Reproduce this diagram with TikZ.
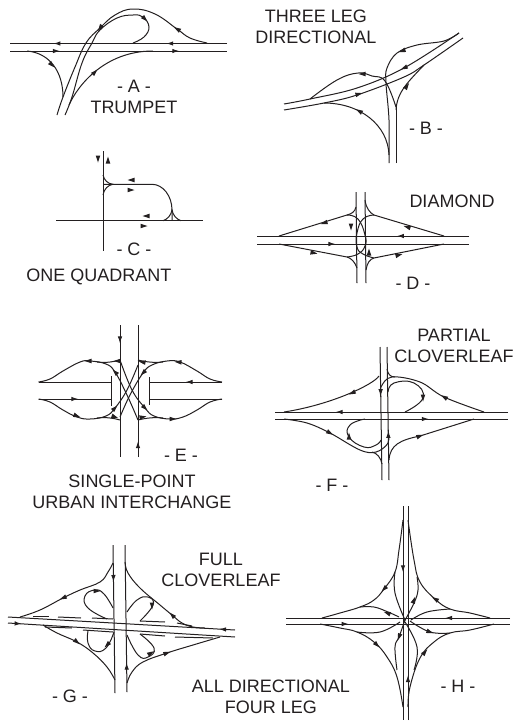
\documentclass[tikz,border=0pt]{standalone}
\usepackage{fontspec}
\setmainfont{Liberation Sans}
\usetikzlibrary{arrows.meta,decorations.markings}
\definecolor{ink}{HTML}{231F20}
\tikzset{
  road/.style={ink, line width=1pt},
  flow/.style={postaction={decorate, decoration={markings, mark=at position #1 with {\arrow{Latex[length=7pt,width=4.5pt]}}}}},
  lbl/.style={ink, font=\fontsize{18}{21}\selectfont, align=center, inner sep=0pt},
}
% free arrow head: x, y, angle
\newcommand{\tipmark}[3]{\fill[ink, shift={(#1,#2)}, rotate=#3] (3.5,0) -- (-3.5,2.3) -- (-3.5,-2.3) -- cycle;}
\begin{document}
\begin{tikzpicture}[x=1pt, y=-1pt]
    \useasboundingbox (0,0) rectangle (514,721);

    % --- A: trumpet ---
    \draw[road, flow=0.28, flow=0.8] (227,43.5) -- (10,43.5);
    \draw[road, flow=0.23, flow=0.78] (10,51) -- (227,51);
    \draw[road] plot[smooth, tension=0.7] coordinates {(207,43) (190,38) (177,29) (155,14) (133,9) (115,15) (100,28) (86,43) (75,67) (63,97) (57,115)};
    \draw[road] plot[smooth, tension=0.7] coordinates {(133,43) (144,37) (149,27) (143,17) (133,15) (117,18) (100,30) (92,43) (82,63) (72,97) (65,115)};
    \draw[road] (69,105) .. controls (78,85) and (105,51) .. (153,51);
    \draw[road] (27,51) .. controls (50,53) and (63,72) .. (63,97);
    \tipmark{177}{29}{150}
    \tipmark{100}{28}{235}
    \tipmark{95}{72}{45}
    \tipmark{52}{65}{315}
    \tipmark{145}{19}{315}

    % --- B: three leg directional ---
    \draw[road] plot[smooth, tension=0.6] coordinates {(459,33) (404,68) (357,88) (310,99) (284,104)};
    \draw[road] plot[smooth, tension=0.6] coordinates {(284,110) (324,103) (357,95) (404,77) (424,65) (463,38)};
    \draw[road] plot[smooth, tension=0.6] coordinates {(459,33) (444,41) (417,45) (397,53) (387,68) (386,83) (389,120) (389,163)};
    \draw[road] (396,163) -- (396,107);
    \draw[road] (396,110) .. controls (397,92) and (408,82) .. (424,65);
    \draw[road] plot[smooth, tension=0.7] coordinates {(396,107) (385,81) (372,76) (358,73) (337,80) (310,99)};
    \draw[road] (389,155) .. controls (388,125) and (360,103) .. (324,103);
    \tipmark{404}{68}{205}
    \tipmark{359}{94}{15}
    \tipmark{402}{51}{200}
    \tipmark{407}{86}{55}
    \tipmark{362}{74}{180}
    \tipmark{359}{111}{150}

    % --- C: one quadrant ---
    \draw[road] (103,151) -- (103,251);
    \draw[road] (56,220.7) -- (203,220.7);
    \draw[road] (103,184.3) -- (152,184.3) .. controls (163,184.3) and (172,196) .. (172,210) -- (172,220.7);
    \draw[road] (103,175) .. controls (104,180) and (108,184) .. (113,184.3) .. controls (108,185) and (104,189) .. (103,195);
    \draw[road] (163,220.7) .. controls (168,219) and (171,215) .. (172,210) .. controls (173,215) and (176,219) .. (181,220.7);
    \tipmark{98}{159}{270}
    \tipmark{108}{160}{90}
    \tipmark{131}{180}{180}
    \tipmark{131}{190}{0}
    \tipmark{146}{216}{180}
    \tipmark{144}{226}{0}

    % --- D: diamond ---
    \draw[road, flow=0.34] (469,236) -- (257,236);
    \draw[road, flow=0.37] (257,244) -- (469,244);
    \draw[road] (356,192) -- (357,283);
    \draw[road] (365,192) -- (366,283);
    \draw[road] (356,207) .. controls (355,212) and (351,214) .. (347,215) -- (279,236);
    \draw[road] (444,236) -- (374,215) .. controls (370,213) and (366,208) .. (365,200);
    \draw[road] (279,244) -- (347,257) .. controls (351,258) and (355,262) .. (357,268);
    \draw[road] (366,270) .. controls (367,263) and (370,259) .. (374,258) -- (444,244);
    \draw[road] plot[smooth, tension=0.8] coordinates {(347,215) (358,219) (365,235) (365,246) (358,254) (347,257)};
    \draw[road] plot[smooth, tension=0.8] coordinates {(374,215) (363,219) (357,233) (357,247) (363,254) (374,258)};
    \tipmark{324}{223}{197}
    \tipmark{407}{227}{163}
    \tipmark{314}{253}{349}
    \tipmark{399}{255}{15}
    \tipmark{351}{227}{270}
    \tipmark{369}{252}{90}

    % --- E: single-point urban interchange ---
    \draw[road, flow=0.14] (120,325) -- (120,457);
    \draw[road, flow=0.12] (138,457) -- (138,325);
    \draw[road] (38.5,382) -- (111,382);
    \draw[road, flow=0.55] (38.5,399) -- (111,399);
    \draw[road, flow=0.5] (222,382) -- (149,382);
    \draw[road] (149,399) -- (222,399);
    \draw[road] (111,376) -- (111,406);
    \draw[road] (149,377) -- (149,405);
    \draw[road] plot[smooth, tension=0.7] coordinates {(138,420) (127,395) (115,372) (106,364) (90,361) (80,362) (63,371) (50,379) (38.5,382)};
    \draw[road] plot[smooth, tension=0.7] coordinates {(222,382) (210,379) (197,371) (180,362) (167,361) (152,365) (143,373) (130,395) (120,417)};
    \draw[road] plot[smooth, tension=0.7] coordinates {(38.5,399) (50,402) (63,410) (77,417) (90,419) (106,416) (115,408) (127,390) (138,365)};
    \draw[road] plot[smooth, tension=0.7] coordinates {(120,360) (132,390) (145,408) (154,416) (170,419) (183,417) (197,410) (210,402) (222,399)};
    \draw[road] (97,362) .. controls (106,363) and (113,362) .. (120,360);
    \draw[road] (163,362) .. controls (155,363) and (146,362) .. (138,360);
    \draw[road] (97,418) .. controls (106,417) and (113,418) .. (120,420);
    \draw[road] (138,420) .. controls (146,418) and (155,417) .. (163,418);
    \tipmark{88}{361}{180}
    \tipmark{115}{372}{135}
    \tipmark{178}{362}{175}
    \tipmark{143}{373}{225}
    \tipmark{77}{416}{340}
    \tipmark{115}{408}{45}
    \tipmark{173}{419}{0}
    \tipmark{145}{408}{315}
    \tipmark{117}{361}{180}
    \tipmark{142}{362}{170}
    \tipmark{115}{417}{340}
    \tipmark{143}{417}{10}

    % --- F: partial cloverleaf ---
    \draw[road, flow=0.74] (508,412) -- (275,412);
    \draw[road, flow=0.66] (275,419) -- (508,419);
    \draw[road, flow=0.37] (380,347) -- (382,480);
    \draw[road, flow=0.37] (389,480) -- (387,347);
    \draw[road] (379,376) .. controls (373,385) and (330,405) .. (284,412);
    \draw[road] plot[smooth, tension=0.6] coordinates {(484,412) (444,397) (420,382) (392,377) (381,387) (381,397)};
    \draw[road] (387,369) .. controls (388,374) and (390,377) .. (395,377);
    \draw[road] plot[smooth, tension=0.8] coordinates {(388,392) (394,383) (414,383) (423,398) (405,412)};
    \draw[road] plot[smooth, tension=0.6] coordinates {(284,419) (307,423) (330,433) (360,450) (376,452) (388,443) (388,430)};
    \draw[road] (382,464) .. controls (381,458) and (377,453) .. (372,452);
    \draw[road] plot[smooth, tension=0.8] coordinates {(381,440) (376,445) (364,447) (349,437) (350,425) (365,419)};
    \draw[road] (389,460) .. controls (390,445) and (400,440) .. (420,436) -- (474,419);
    \tipmark{352}{393}{205}
    \tipmark{444}{397}{150}
    \tipmark{423}{398}{270}
    \tipmark{330}{433}{330}
    \tipmark{349}{436}{90}
    \tipmark{420}{436}{20}

    % --- G: full cloverleaf ---
    \draw[road, flow=0.07] (235,630) -- (8,617);
    \draw[road, flow=0.06] (8,623) -- (235,637);
    \draw[road, flow=0.25] (113,545) -- (115,693);
    \draw[road, flow=0.2] (127,692) -- (125,545);
    \foreach \xa/\ya/\xb/\yb in {33/616/49/616, 58/617/81/618, 92/618/113/619, 140/621/165/622, 177/623/192/626,
        45/627/72/628, 83/630/113/632, 140/634/165/636, 175/637/213/638}
        \draw[road] (\xa,\ya) -- (\xb,\yb);
    \draw[road] plot[smooth, tension=0.7] coordinates {(113,563) (108,572) (100,582) (80,590) (63,598) (40,610) (20,617)};
    \draw[road] plot[smooth, tension=0.7] coordinates {(205,628) (193,627) (182,623) (172,615) (160,605) (140,588) (128,573) (125,562)};
    \draw[road] plot[smooth, tension=0.7] coordinates {(43,625) (57,633) (77,642) (93,653) (107,667) (115,680)};
    \draw[road] plot[smooth, tension=0.7] coordinates {(127,683) (132,672) (143,662) (167,653) (193,645) (220,637)};
    \draw[road] plot[smooth, tension=0.8] coordinates {(107,619) (88,608) (85,596) (95,590) (104,594) (113,608)};
    \draw[road] plot[smooth, tension=0.8] coordinates {(127,612) (137,600) (148,597) (153,605) (140,621)};
    \draw[road] plot[smooth, tension=0.8] coordinates {(114,632) (106,648) (95,651) (88,643) (88,631)};
    \draw[road] plot[smooth, tension=0.8] coordinates {(127,635) (138,655) (148,657) (154,648) (140,634)};
    \tipmark{63}{598}{205}
    \tipmark{172}{615}{135}
    \tipmark{77}{642}{320}
    \tipmark{167}{653}{20}
    \tipmark{97}{591}{0}
    \tipmark{152}{606}{270}
    \tipmark{107}{645}{225}
    \tipmark{151}{653}{30}

    % --- H: all directional four leg ---
    \draw[road, flow=0.29] (510,618) -- (286,618);
    \draw[road, flow=0.28] (286,624) -- (510,624);
    \draw[road, flow=0.31] (403,506) -- (403,720);
    \draw[road, flow=0.21] (408,720) -- (408,506);
    \draw[road] plot[smooth, tension=0.7] coordinates {(403,520) (399,550) (395,572) (384,589) (374,600) (360,607) (340,613) (322,618)};
    \draw[road] plot[smooth, tension=0.7] coordinates {(490,618) (470,613) (450,609) (435,599) (420,582) (414,560) (408,520)};
    \draw[road] plot[smooth, tension=0.7] coordinates {(320,624) (340,628) (357,632) (374,642) (387,657) (397,677) (403,707)};
    \draw[road] plot[smooth, tension=0.7] coordinates {(408,707) (410,687) (420,658) (434,642) (450,633) (470,630) (494,624)};
    \draw[road] plot[smooth, tension=0.7] coordinates {(399,617) (388,612) (374,607) (360,607)};
    \draw[road] plot[smooth, tension=0.7] coordinates {(395,572) (395,593) (405,620)};
    \draw[road] plot[smooth, tension=0.7] coordinates {(404,622) (414,603) (418,590) (417,577)};
    \draw[road] plot[smooth, tension=0.7] coordinates {(450,609) (427,612) (411,620)};
    \draw[road] plot[smooth, tension=0.7] coordinates {(357,632) (380,632) (400,622)};
    \draw[road] plot[smooth, tension=0.7] coordinates {(405,620) (399,637) (395,647) (397,670)};
    \draw[road] plot[smooth, tension=0.7] coordinates {(405,622) (417,647) (414,670)};
    \draw[road] plot[smooth, tension=0.7] coordinates {(410,621) (430,632) (450,633)};
    \tipmark{384}{589}{225}
    \tipmark{435}{599}{150}
    \tipmark{377}{645}{315}
    \tipmark{425}{652}{50}
    \tipmark{387}{613}{160}
    \tipmark{414}{600}{70}
    \tipmark{399}{637}{250}
    \tipmark{430}{632}{340}

    % --- labels ---
    \node[lbl] (labelA) at (134,97) {- A -\\TRUMPET};
    \node[lbl] (labelB) at (316,27) {THREE LEG\\DIRECTIONAL};
    \node[lbl] (tagB) at (426,128) {- B -};
    \node[lbl] (tagC) at (134,249) {- C -};
    \node[lbl] (labelC) at (99,277) {ONE QUADRANT};
    \node[lbl] (labelD) at (452,201) {DIAMOND};
    \node[lbl] (tagD) at (413,283) {- D -};
    \node[lbl] (tagE) at (181,455) {- E -};
    \node[lbl] (labelE) at (132,492) {SINGLE-POINT\\URBAN INTERCHANGE};
    \node[lbl] (tagF) at (332,485) {- F -};
    \node[lbl] (labelF) at (454,346) {PARTIAL\\CLOVERLEAF};
    \node[lbl] (tagG) at (70,696) {- G -};
    \node[lbl] (labelG) at (221,570) {FULL\\CLOVERLEAF};
    \node[lbl] (labelH) at (271,697) {ALL DIRECTIONAL\\FOUR LEG};
    \node[lbl] (tagH) at (458,686) {- H -};
\end{tikzpicture}
\end{document}
